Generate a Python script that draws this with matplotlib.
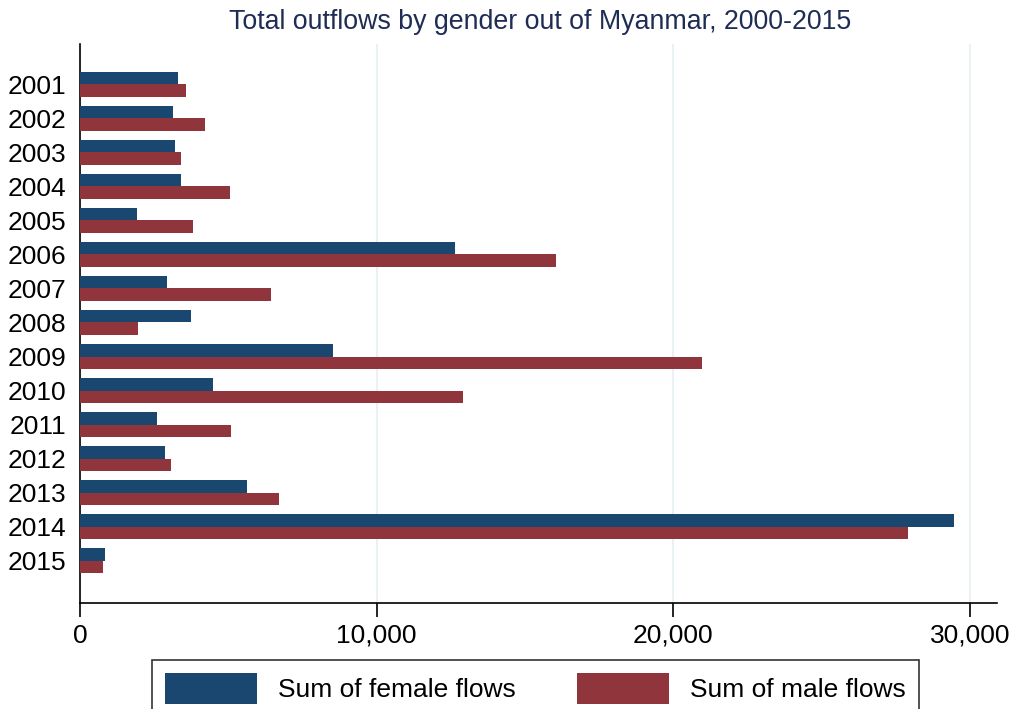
import matplotlib.pyplot as plt
from matplotlib.ticker import FuncFormatter
import numpy as np

plt.rcParams['font.family'] = ['Liberation Sans', 'DejaVu Sans']

# 데이터
years = ['2001', '2002', '2003', '2004', '2005', '2006', '2007', '2008',
         '2009', '2010', '2011', '2012', '2013', '2014', '2015']
female_flows = [3290, 3140, 3220, 3410, 1930, 12630, 2940, 3750,
                8520, 4490, 2610, 2870, 5630, 29450, 860]
male_flows = [3580, 4220, 3410, 5060, 3820, 16060, 6450, 1970,
              20960, 12900, 5090, 3080, 6720, 27920, 760]

navy = '#1a476f'
maroon = '#90353b'

fig = plt.figure(figsize=(10.16, 7.09), dpi=100)
ax = fig.add_axes([0.0787, 0.1495, 0.9023, 0.7885])

y = np.arange(len(years))
h = 0.37
ax.barh(y - h / 2, female_flows, height=h, color=navy, label='Sum of female flows', zorder=3)
ax.barh(y + h / 2, male_flows, height=h, color=maroon, label='Sum of male flows', zorder=3)

ax.set_ylim(len(years) - 1 + 1.24, -1.18)
ax.set_xlim(0, 30900)
ax.set_yticks(y)
ax.set_yticklabels(years, fontsize=19)
ax.tick_params(axis='y', length=0, pad=10)

ax.set_xticks([0, 10000, 20000, 30000])
ax.xaxis.set_major_formatter(FuncFormatter(lambda v, p: f'{int(v):,}'))
ax.tick_params(axis='x', labelsize=19, length=10, width=1.2, pad=5)

ax.grid(axis='x', color='#eaf1f4', linewidth=1.5, zorder=0)
for s in ['top', 'right']:
    ax.spines[s].set_visible(False)
ax.spines['left'].set_linewidth(1.2)
ax.spines['bottom'].set_linewidth(1.2)

fig.suptitle('Total outflows by gender out of Myanmar, 2000-2015',
             fontsize=19.3, color='#1f2d55', y=0.988, x=0.532)

leg = fig.legend(loc='lower center', bbox_to_anchor=(0.527, -0.03), ncol=2,
                 fontsize=19, frameon=True, fancybox=False, edgecolor='black',
                 handlelength=3.5, handleheight=1.4, columnspacing=2.3,
                 borderpad=0.5)
leg.get_frame().set_linewidth(1.2)

fig.savefig('out.png', dpi=100)
